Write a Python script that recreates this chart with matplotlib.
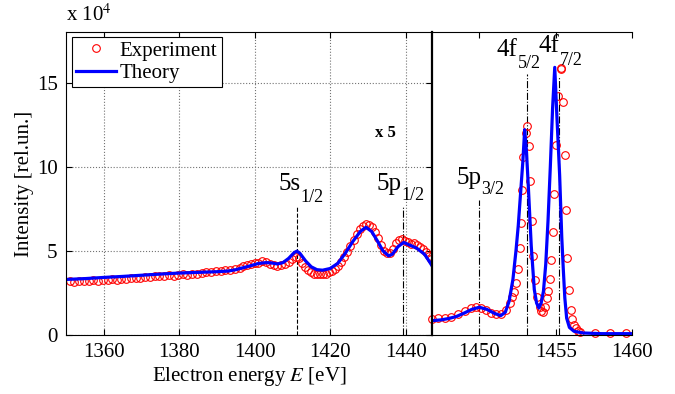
import matplotlib
matplotlib.use("Agg")
import matplotlib.pyplot as plt

plt.rcParams['font.family'] = ['Liberation Serif', 'DejaVu Serif']
plt.rcParams['mathtext.fontset'] = 'stix'
plt.rcParams['font.size'] = 15

# intensity in units of 1e4
theo_left_e = [1350, 1355, 1360, 1365, 1370, 1375, 1380, 1385, 1390, 1393, 1395, 1397, 1399,
               1401, 1403, 1404.5, 1406, 1407.5, 1409, 1410.5, 1411.2, 1412, 1413.5, 1415,
               1416.5, 1418, 1420, 1422, 1424, 1426, 1428, 1429.5, 1431, 1432.5, 1434, 1435.5,
               1436.5, 1438, 1439.5, 1441, 1443, 1445, 1446.2, 1446.9]
theo_left_i = [3.30, 3.35, 3.42, 3.48, 3.55, 3.62, 3.68, 3.72, 3.76, 3.80, 3.88, 4.00, 4.12,
               4.25, 4.30, 4.28, 4.22, 4.30, 4.55, 4.90, 4.98, 4.85, 4.40, 4.05,
               3.88, 3.85, 3.95, 4.25, 4.85, 5.55, 6.15, 6.40, 6.15, 5.60, 5.00, 4.70,
               4.80, 5.25, 5.50, 5.35, 5.15, 4.80, 4.40, 4.15]

exp_left_e = [1351.0, 1352.2, 1353.5, 1354.7, 1356.0, 1357.2, 1358.5, 1359.7, 1361.0, 1362.2,
              1363.5, 1364.7, 1366.0, 1367.2, 1368.5, 1369.7, 1371.0, 1372.2, 1373.5, 1374.7,
              1376.0, 1377.2, 1378.5, 1379.7, 1381.0, 1382.2, 1383.5, 1384.7, 1386.0, 1387.2,
              1388.5, 1389.7, 1391.0, 1392.2, 1393.5, 1394.7, 1396.0, 1397.0, 1398.0, 1399.0,
              1400.0, 1401.0, 1402.0, 1403.0, 1404.0, 1405.0, 1406.0, 1407.0, 1408.0, 1409.0,
              1410.0, 1411.0, 1411.8, 1412.6, 1413.4, 1414.2, 1415.0, 1415.8, 1416.6, 1417.4,
              1418.2, 1419.0, 1419.8, 1420.6, 1421.4, 1422.2, 1423.0, 1423.8, 1424.6, 1425.4,
              1426.2, 1427.0, 1427.8, 1428.6, 1429.4, 1430.2, 1431.0, 1431.8, 1432.6, 1433.4,
              1434.2, 1435.0, 1435.8, 1436.6, 1437.4, 1438.2, 1439.0, 1439.8, 1440.6, 1441.4,
              1442.2, 1443.0, 1443.8, 1444.6, 1445.4, 1446.2, 1446.8]
exp_left_i = [3.18, 3.15, 3.20, 3.22, 3.20, 3.25, 3.22, 3.28, 3.25, 3.30,
              3.28, 3.35, 3.32, 3.38, 3.40, 3.38, 3.45, 3.42, 3.48, 3.50,
              3.48, 3.55, 3.52, 3.58, 3.60, 3.58, 3.62, 3.65, 3.68, 3.72,
              3.75, 3.78, 3.80, 3.85, 3.88, 3.92, 4.00, 4.08, 4.15, 4.20,
              4.28, 4.30, 4.38, 4.35, 4.22, 4.18, 4.12, 4.15, 4.22, 4.35,
              4.50, 4.62, 4.55, 4.30, 4.05, 3.85, 3.72, 3.65, 3.62, 3.60,
              3.62, 3.65, 3.72, 3.80, 3.92, 4.10, 4.35, 4.65, 4.95, 5.30,
              5.65, 6.00, 6.30, 6.50, 6.60, 6.55, 6.40, 6.10, 5.75, 5.35,
              5.00, 4.85, 4.90, 5.10, 5.45, 5.65, 5.70, 5.60, 5.50, 5.40,
              5.45, 5.35, 5.25, 5.10, 4.95, 4.70, 4.50]

theo_right_e = [1446.9, 1447.5, 1448.0, 1448.5, 1449.0, 1449.5, 1450.0, 1450.5, 1451.0, 1451.4,
                1451.7, 1451.95, 1452.2, 1452.4, 1452.55, 1452.7, 1452.85, 1452.97, 1453.08,
                1453.2, 1453.4, 1453.6, 1453.75, 1453.9, 1454.05, 1454.2, 1454.35, 1454.5,
                1454.65, 1454.8, 1454.94, 1455.08, 1455.26, 1455.4, 1455.5, 1455.6, 1455.72,
                1455.9, 1456.2, 1456.8, 1458.0, 1460.0]
theo_right_i = [0.85, 0.90, 0.98, 1.10, 1.30, 1.52, 1.65, 1.52, 1.28, 1.15,
                1.35, 2.0, 3.3, 5.0, 6.5, 8.4, 10.3, 12.2, 11.0,
                9.0, 5.3, 2.7, 1.9, 1.6, 1.9, 2.6, 4.2, 6.8,
                10.0, 13.5, 15.9, 13.0, 9.5, 5.8, 3.9, 2.2, 1.0,
                0.45, 0.22, 0.12, 0.08, 0.08]

exp_right_e = [1446.92, 1447.29, 1447.73, 1448.17, 1448.60, 1449.04, 1449.48, 1449.80, 1450.13,
               1450.46, 1450.79, 1451.11, 1451.44, 1451.77, 1451.99, 1452.16, 1452.27, 1452.38,
               1452.53, 1452.64, 1452.75, 1452.81, 1452.86, 1453.05, 1453.10, 1453.23, 1453.32,
               1453.43, 1453.54, 1453.64, 1453.78, 1453.95, 1454.05, 1454.17, 1454.32, 1454.43,
               1454.50, 1454.61, 1454.72, 1454.82, 1454.89, 1455.00, 1455.15, 1455.33, 1455.37,
               1455.48, 1455.59, 1455.66, 1455.74, 1455.87, 1455.98, 1456.09, 1456.18, 1456.30,
               1456.46, 1456.60, 1457.58, 1458.56, 1459.59]
exp_right_i = [0.93, 0.99, 1.03, 1.09, 1.23, 1.42, 1.58, 1.64, 1.58,
               1.48, 1.32, 1.23, 1.25, 1.48, 1.88, 2.27, 2.57, 3.10,
               3.90, 5.15, 6.66, 8.6, 10.6, 12.0, 12.4, 11.2, 9.16,
               6.78, 4.69, 3.26, 2.27, 1.68, 1.45, 1.38, 1.68, 2.2,
               2.6, 3.3, 4.45, 6.13, 8.4, 11.3, 14.2, 15.86, 15.8,
               13.85, 10.7, 7.4, 4.6, 2.7, 1.5, 0.93, 0.6, 0.4,
               0.25, 0.2, 0.1, 0.1, 0.1]

left_marks_e = [1411.1, 1439.4]
left_marks_top = [7.6, 7.6]
left_marks_ls = ['--', '-.']
left_levels = ['5s', '5p']
left_subs = ['1/2', '1/2']

right_marks_e = [1450.0, 1453.12, 1455.22]
right_marks_top = [8.0, 15.5, 15.3]
right_levels = ['5p', '4f', '4f']
right_subs = ['3/2', '5/2', '7/2']


def level_label(ax, x, y_main, y_sub, main, sub):
    # MATLAB style subscript: large and set well below the baseline
    ax.text(x, y_main, main, ha='right', va='baseline', fontsize=18)
    ax.text(x, y_sub, sub, ha='left', va='baseline', fontsize=13)


W, H = 675, 394
fig = plt.figure(figsize=(W / 100, H / 100), dpi=100)
axl = fig.add_axes([66 / W, 1 - 335 / H, 366 / W, 303 / H])
axr = fig.add_axes([432 / W, 1 - 335 / H, 200 / W, 303 / H])

mk = dict(ls='none', marker='o', ms=5.5, mfc='none', mec='red', mew=0.8)
axl.plot(exp_left_e, exp_left_i, label='Experiment', **mk)
axl.plot(theo_left_e, theo_left_i, color='blue', lw=2.3, label='Theory')
axr.plot(exp_right_e, exp_right_i, clip_on=False, **mk)
axr.plot(theo_right_e, theo_right_i, color='blue', lw=2.3)

for e, top, ls in zip(left_marks_e, left_marks_top, left_marks_ls):
    axl.vlines(e, 0, top, colors='black', linestyles=ls, lw=0.8, zorder=1)
for e, top in zip(right_marks_e, right_marks_top):
    axr.vlines(e, 0, top, colors='black', linestyles='-.', lw=0.8, zorder=1)

level_label(axl, 1412.2, 8.6, 7.9, left_levels[0], left_subs[0])
level_label(axl, 1438.9, 8.6, 8.0, left_levels[1], left_subs[1])
level_label(axr, 1450.15, 9.0, 8.35, right_levels[0], right_subs[0])
level_label(axr, 1452.5, 16.55, 15.85, right_levels[1], right_subs[1])
level_label(axr, 1455.26, 16.8, 16.05, right_levels[2], right_subs[2])
axl.text(1432.0, 12.0, 'x 5', fontsize=12, fontweight='bold', ha='left', va='center')

axl.set_xlim(1350, 1447)
axl.set_ylim(0, 18)
axl.set_xticks([1360, 1380, 1400, 1420, 1440])
axl.set_yticks([0, 5, 10, 15])
axl.grid(True, ls=':', color='0.45', lw=0.8)
axl.tick_params(direction='in', top=True, right=True, length=4, width=0.8, pad=6)
axl.set_xlabel(r'Electron energy $E$ [eV]', labelpad=2)
axl.set_ylabel('Intensity [rel.un.]', labelpad=2)
axl.text(0.0, 1.02, r'x 10$^4$', transform=axl.transAxes, ha='left', va='bottom')
for s in axl.spines.values():
    s.set_linewidth(0.8)

axr.set_xlim(1446.9, 1460)
axr.set_ylim(0, 18)
axr.set_xticks([1450, 1455, 1460])
axr.set_yticks([])
axr.spines['right'].set_visible(False)
axr.spines['left'].set_linewidth(1.6)
axr.spines['top'].set_linewidth(0.8)
axr.spines['bottom'].set_linewidth(0.8)
axr.tick_params(direction='in', top=True, length=4, width=0.8, pad=6)

leg = axl.legend(loc='upper left', bbox_to_anchor=(0.016, 0.984), borderaxespad=0,
                 fancybox=False, framealpha=1, edgecolor='black', handlelength=1.9,
                 handletextpad=0.2, labelspacing=0.15, borderpad=0.2)
leg.get_frame().set_linewidth(0.8)

fig.savefig('out.png', dpi=100)
